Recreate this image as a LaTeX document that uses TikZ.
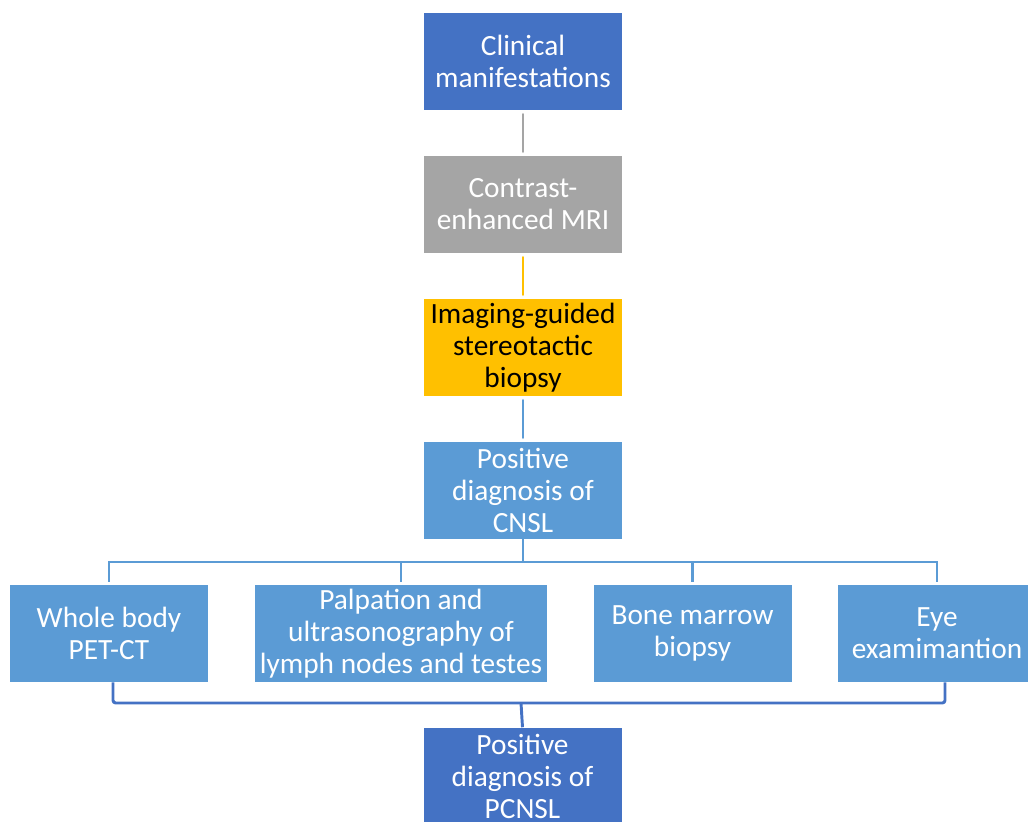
\documentclass[tikz,border=0pt]{standalone}
\usepackage{fontspec}
\setmainfont{Carlito}
\usepackage{tikz}
\usetikzlibrary{calc}
\usepackage{xcolor}
\definecolor{darkblue}{HTML}{4472C4}
\definecolor{midblue}{HTML}{5B9BD5}
\definecolor{boxgray}{HTML}{A5A5A5}
\definecolor{gold}{HTML}{FFC000}

\begin{document}
\begin{tikzpicture}[x=0.75pt,y=-0.75pt,line cap=round,
  box/.style={rectangle,inner sep=0pt,minimum width=148.5pt,minimum height=72.75pt,
    align=center,text=white,font=\fontsize{22}{24}\selectfont},
  link/.style={line width=2pt,shorten <=3pt,shorten >=3pt},
  tree/.style={line width=2pt,midblue,line cap=butt},
  bracket/.style={line width=2.2pt,darkblue,rounded corners=2pt,line cap=butt}]
\useasboundingbox (0,0) rectangle (1028,821);
\clip (0,0) rectangle (1028,821);
% main column
\node[box,fill=darkblue] (clin) at (523,61.5) {Clinical\\manifestations};
\node[box,fill=boxgray] (mri) at (523,204.5) {Contrast-\\enhanced MRI};
\node[box,fill=gold,text=black] (biopsy) at (523,347.5) {Imaging-guided\\stereotactic\\biopsy};
\node[box,fill=midblue] (cnsl) at (523,490.5) {Positive\\diagnosis of\\CNSL};
\draw[link,boxgray] (clin) -- (mri);
\draw[link,gold] (mri) -- (biopsy);
\draw[link,midblue] (biopsy) -- (cnsl);
% staging row
\node[box,fill=midblue] (body) at (109,633.5) {Whole body\\PET-CT};
\node[box,fill=midblue,minimum width=219pt] (palp) at (401,633.5) {Palpation and\\ultrasonography of\\lymph nodes and testes};
\node[box,fill=midblue] (marrow) at (692.5,633.5) {Bone marrow\\biopsy};
\node[box,fill=midblue] (eye) at (937,633.5) {Eye\\examimantion};
\coordinate (bus) at (523,562);
\draw[tree] (cnsl) -- (bus);
\draw[tree,shorten <=2.25pt] (body.north) |- (bus) -| ($(eye.north)+(0,-3)$);
\draw[tree,shorten <=2.25pt] (palp.north) -- (palp.north |- bus);
\draw[tree,shorten <=2.25pt] (marrow.north) -- (marrow.north |- bus);
% result
\node[box,fill=darkblue] (pcnsl) at (522.5,776) {Positive\\diagnosis of\\PCNSL};
\coordinate (brk) at (521,703);
\draw[bracket] ($(body.south)+(4,0)$) |- (brk) -| ($(eye.south)+(8,0)$);
\draw[bracket] (brk) -- (pcnsl.north);
\end{tikzpicture}
\end{document}
